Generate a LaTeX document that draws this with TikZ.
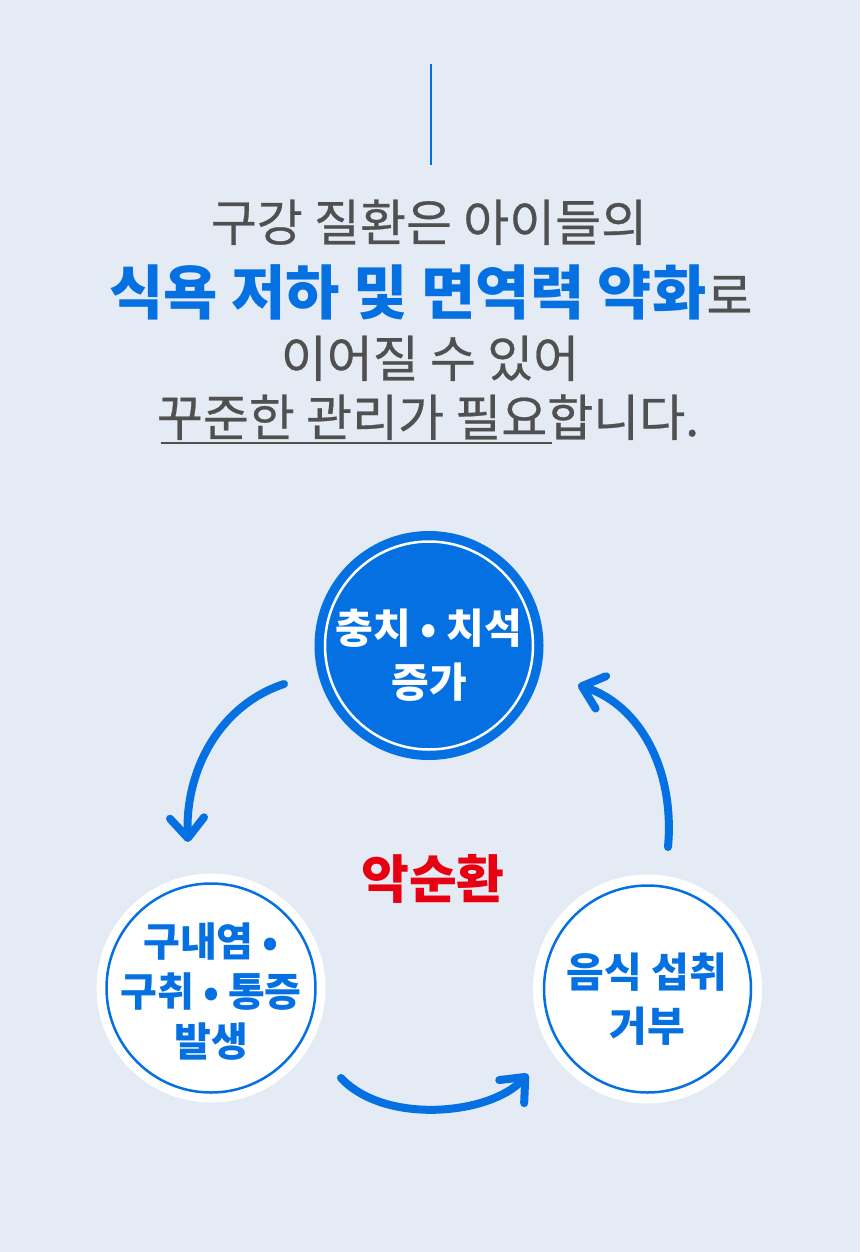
\documentclass[tikz,border=0pt]{standalone}
\usepackage{fontspec}
\usetikzlibrary{arrows.meta}
\newfontfamily\kr[FakeBold=0.5]{Noto Sans CJK KR}
\newfontfamily\krbf{Noto Sans CJK KR}
\definecolor{bg}{HTML}{E4EBF4}
\definecolor{cblue}{HTML}{0570E2}
\definecolor{cgray}{HTML}{505050}
\definecolor{cred}{HTML}{E60012}
\begin{document}
\begin{tikzpicture}[x=1pt,y=-1pt,
  headline/.style={anchor=base, inner sep=0pt, text=cgray, font=\kr\fontsize{50}{50}\selectfont},
  bluedisc/.style={circle, fill=cblue, minimum size=229pt, inner sep=0pt},
  whitedisc/.style={circle, fill=white, minimum size=229pt, inner sep=0pt},
  ring/.style={line width=2.5pt},
  circtext/.style={align=center, inner sep=0pt},
  flow/.style={draw=cblue, line width=8pt, line cap=round,
    -{Straight Barb[length=20pt,width=34pt,round]}}
]
\fill[bg] (0,0) rectangle (860,1252);
\useasboundingbox (0,0) rectangle (860,1252);

% top rule
\coordinate (r1) at (431,64);
\coordinate (r2) at (431,165);
\draw[cblue, line width=1.5pt] (r1) -- (r2);

% headline
\node[headline] (l1) at (429,241) {구강 질환은 아이들의};
\node[headline] (l2) at (431,314) {{\krbf\bfseries\fontsize{59}{59}\selectfont\color{cblue}식욕 저하 및 면역력 약화}로};
\node[headline] (l3) at (430,377) {이어질 수 있어};
\node[headline] (l4) at (428,436) {꾸준한 관리가 필요합니다.};
\coordinate (u1) at (161,443);
\coordinate (u2) at (552,443);
\draw[cgray, line width=2pt] (u1) -- (u2);

% circles
\node[bluedisc] (c1) at (429,645.5) {};
\draw[ring, white] (c1.center) circle[radius=104pt];
\node[whitedisc] (c2) at (211,988) {};
\draw[ring, cblue] (c2.center) circle[radius=104.5pt];
\node[whitedisc] (c3) at (647.5,989) {};
\draw[ring, cblue] (c3.center) circle[radius=103.5pt];

\node[circtext, text=white, font=\krbf\bfseries\fontsize{41}{54}\selectfont] (t1) at (429,655) {충치 • 치석\\증가};
\node[circtext, text=cblue, font=\krbf\bfseries\fontsize{40}{50}\selectfont] (t2) at (211,992) {구내염 •\\구취 • 통증\\발생};
\node[circtext, text=cblue, font=\krbf\bfseries\fontsize{41}{53.5}\selectfont] (t3) at (647,999) {음식 섭취\\거부};

\node[inner sep=0pt, text=cred, font=\krbf\bfseries\fontsize{52}{52}\selectfont] (vc) at (433,879) {악순환};

% arrows
\coordinate (a1s) at (284,684);
\coordinate (a1e) at (188,842);
\draw[flow] (a1s) .. controls (220,705) and (185,770) .. (a1e);
\coordinate (a2s) at (341,1078);
\coordinate (a2e) at (528,1074);
\draw[flow] (a2s) .. controls (385,1125) and (490,1115) .. (a2e);
\coordinate (a3s) at (668,847);
\coordinate (a3e) at (578,685);
\draw[flow] (a3s) .. controls (675,770) and (640,705) .. (a3e);
\end{tikzpicture}
\end{document}
